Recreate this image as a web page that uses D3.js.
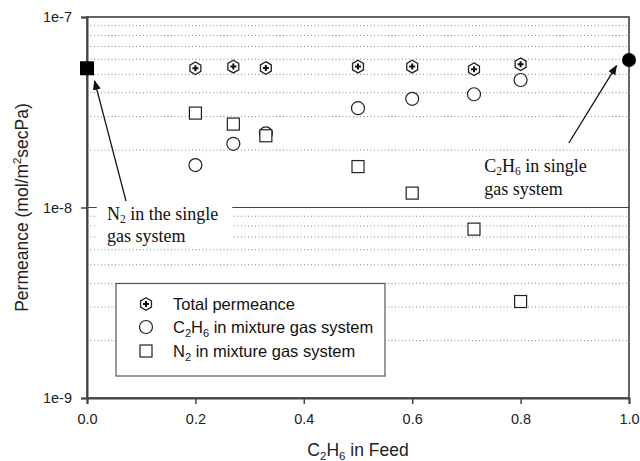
<!DOCTYPE html>
<html><head><meta charset="utf-8">
<script src="https://cdn.jsdelivr.net/npm/d3@7"></script>
<style>body{margin:0;background:#fff}svg{display:block}</style>
</head><body>
<svg id="c" width="640" height="461"></svg>
<script>
const feed = [0.2, 0.27, 0.33, 0.5, 0.6, 0.714, 0.8];
const totalPerm = [5.38e-8, 5.49e-8, 5.40e-8, 5.49e-8, 5.49e-8, 5.32e-8, 5.65e-8];
const c2h6Mix = [1.67e-8, 2.16e-8, 2.45e-8, 3.32e-8, 3.72e-8, 3.93e-8, 4.67e-8];
const n2Mix = [3.13e-8, 2.74e-8, 2.38e-8, 1.64e-8, 1.19e-8, 7.7e-9, 3.21e-9];
const n2Single = [{x: 0, y: 5.38e-8}];
const c2h6Single = [{x: 1, y: 5.95e-8}];
const xTicks = [0, 0.2, 0.4, 0.6, 0.8, 1.0];
const yTicks = [1e-9, 1e-8, 1e-7];
const yTickLabels = ["1e-9", "1e-8", "1e-7"];
const legendLabels = ["Total permeance", "C2H6 in mixture gas system", "N2 in mixture gas system"];

const svg = d3.select("#c");
const L = 87, R = 629, T = 17, B = 398;
const x = d3.scaleLinear().domain([0, 1]).range([L, R]);
const y = d3.scaleLog().domain([1e-9, 1e-7]).range([B, T]);
const axisCol = "#444";
const sans = "Liberation Sans, Arial, sans-serif";
const serif = "Liberation Serif, Times New Roman, serif";

// minor gridlines
const minor = [];
[1e-9, 1e-8].forEach(d => { for (let k = 2; k <= 9; k++) minor.push(d * k); });
svg.append("g").selectAll("line").data(minor).join("line")
  .attr("x1", L).attr("x2", R)
  .attr("y1", d => y(d)).attr("y2", d => y(d))
  .attr("stroke", "#888").attr("stroke-width", 1).attr("stroke-dasharray", "1,2.5");
// major line at 1e-8
svg.append("line").attr("x1", L).attr("x2", R).attr("y1", y(1e-8)).attr("y2", y(1e-8))
  .attr("stroke", axisCol).attr("stroke-width", 1.2);

// frame
svg.append("rect").attr("x", L).attr("y", T).attr("width", R - L).attr("height", B - T)
  .attr("fill", "none").attr("stroke", "#333").attr("stroke-width", 1.5);

// axes
const xAxis = d3.axisBottom(x).tickValues(xTicks).tickFormat(d3.format(".1f")).tickSizeOuter(0).tickSize(6).tickPadding(10);
const gx = svg.append("g").attr("transform", `translate(0,${B})`).call(xAxis);
const yAxis = d3.axisLeft(y).tickValues(yTicks).tickFormat((d, i) => yTickLabels[i]).tickSizeOuter(0).tickSize(6).tickPadding(9);
const gy = svg.append("g").attr("transform", `translate(${L},0)`).call(yAxis);
[gx, gy].forEach(g => {
  g.select(".domain").attr("stroke", axisCol).attr("stroke-width", 2);
  g.selectAll(".tick line").attr("stroke", axisCol).attr("stroke-width", 1.5);
  g.selectAll(".tick text").attr("font-family", sans)
    .attr("font-size", 14.5).attr("fill", "#222");
});

// axis titles
const xt = svg.append("text").attr("x", x(0.5)).attr("y", 456).attr("text-anchor", "middle")
  .attr("font-family", sans).attr("font-size", 17.5).attr("fill", "#222");
xt.append("tspan").text("C");
xt.append("tspan").text("2").attr("font-size", 11.5).attr("dy", 4);
xt.append("tspan").text("H").attr("dy", -4);
xt.append("tspan").text("6").attr("font-size", 11.5).attr("dy", 4);
xt.append("tspan").text(" in Feed").attr("dy", -4);

const yt = svg.append("text").attr("transform", `translate(28,${(T + B) / 2}) rotate(-90)`).attr("text-anchor", "middle")
  .attr("font-family", sans).attr("font-size", 17.5).attr("fill", "#222");
yt.append("tspan").text("Permeance (mol/m");
yt.append("tspan").text("2").attr("font-size", 11.5).attr("dy", -7);
yt.append("tspan").text("secPa)").attr("dy", 7);

// marker drawers
const hexPath = (r) => {
  const pts = d3.range(6).map(i => { const a = Math.PI / 3 * i - Math.PI / 2; return [r * Math.cos(a), r * Math.sin(a)]; });
  return "M" + pts.map(p => p.join(",")).join("L") + "Z";
};
function drawHex(g, cx, cy) {
  g.append("path").attr("d", hexPath(6.3)).attr("transform", `translate(${cx},${cy})`)
    .attr("fill", "#fff").attr("stroke", "#222").attr("stroke-width", 1.3);
  g.append("path").attr("transform", `translate(${cx},${cy})`)
    .attr("d", "M-1,-3H1V-1H3V1H1V3H-1V1H-3V-1H-1Z").attr("fill", "#111");
}
function drawCircle(g, cx, cy) {
  g.append("circle").attr("cx", cx).attr("cy", cy).attr("r", 6.5)
    .attr("fill", "#fff").attr("stroke", "#222").attr("stroke-width", 1.2);
}
function drawSquare(g, cx, cy) {
  g.append("rect").attr("x", cx - 6).attr("y", cy - 6).attr("width", 12).attr("height", 12)
    .attr("fill", "#fff").attr("stroke", "#222").attr("stroke-width", 1.2);
}

const marks = svg.append("g");
feed.forEach((f, i) => drawCircle(marks, x(f), y(c2h6Mix[i])));
feed.forEach((f, i) => drawSquare(marks, x(f), y(n2Mix[i])));
feed.forEach((f, i) => drawHex(marks, x(f), y(totalPerm[i])));

// single gas points
svg.selectAll(".n2s").data(n2Single).join("rect")
  .attr("x", d => x(d.x) - 7).attr("y", d => y(d.y) - 7).attr("width", 14).attr("height", 14).attr("fill", "#000");
svg.selectAll(".c2s").data(c2h6Single).join("circle")
  .attr("cx", d => x(d.x)).attr("cy", d => y(d.y)).attr("r", 7).attr("fill", "#000");

// annotations
svg.append("rect").attr("x", x(0.018)).attr("y", y(1.06e-8)).attr("width", x(0.268) - x(0.018))
  .attr("height", y(6.3e-9) - y(1.06e-8)).attr("fill", "#fff");
function chemLabel(lx, ly, parts) {
  const t = svg.append("text").attr("x", lx).attr("y", ly).attr("font-family", serif).attr("font-size", 18).attr("fill", "#111");
  parts.forEach(p => {
    if (p.sub) t.append("tspan").text(p.t).attr("font-size", 11.5).attr("dy", 3);
    else t.append("tspan").text(p.t).attr("dy", p.after ? -3 : 0);
  });
}
chemLabel(x(0.037), y(8.6e-9), [{t: "N"}, {t: "2", sub: 1}, {t: " in the single", after: 1}]);
svg.append("text").attr("x", x(0.037)).attr("y", y(6.6e-9)).attr("font-family", serif).attr("font-size", 18).attr("fill", "#111").text("gas system");
chemLabel(x(0.733), y(1.53e-8), [{t: "C"}, {t: "2", sub: 1}, {t: "H", after: 1}, {t: "6", sub: 1}, {t: " in single", after: 1}]);
svg.append("text").attr("x", x(0.733)).attr("y", y(1.17e-8)).attr("font-family", serif).attr("font-size", 18).attr("fill", "#111").text("gas system");

// arrows
svg.append("defs").append("marker").attr("id", "ah").attr("viewBox", "0 0 10 10").attr("refX", 9).attr("refY", 5)
  .attr("markerWidth", 10).attr("markerHeight", 10).attr("markerUnits", "userSpaceOnUse").attr("orient", "auto")
  .append("path").attr("d", "M0,1L10,5L0,9Z").attr("fill", "#111");
const arrows = [
  {x1: 0.072, y1: 1.08e-8, x2: 0.014, y2: 4.62e-8},
  {x1: 0.889, y1: 2.18e-8, x2: 0.977, y2: 5.55e-8}
];
svg.selectAll(".arr").data(arrows).join("line")
  .attr("x1", d => x(d.x1)).attr("y1", d => y(d.y1)).attr("x2", d => x(d.x2)).attr("y2", d => y(d.y2))
  .attr("stroke", "#111").attr("stroke-width", 1.3).attr("marker-end", "url(#ah)");

// legend
const lg = svg.append("g");
lg.append("rect").attr("x", 116).attr("y", 283.5).attr("width", 269).attr("height", 92.5)
  .attr("fill", "#fff").attr("stroke", "#555").attr("stroke-width", 1.2);
const ly = [304, 327, 351];
drawHex(lg, 146, ly[0]);
drawCircle(lg, 146, ly[1]);
drawSquare(lg, 146, ly[2]);
const fs = 16.5;
lg.append("text").attr("x", 173).attr("y", ly[0] + 6).attr("font-family", sans).attr("font-size", fs).attr("fill", "#111").text(legendLabels[0]);
const l2 = lg.append("text").attr("x", 173).attr("y", ly[1] + 6).attr("font-family", sans).attr("font-size", fs).attr("fill", "#111");
l2.append("tspan").text("C"); l2.append("tspan").text("2").attr("font-size", 11).attr("dy", 4);
l2.append("tspan").text("H").attr("dy", -4); l2.append("tspan").text("6").attr("font-size", 11).attr("dy", 4);
l2.append("tspan").text(" in mixture gas system").attr("dy", -4);
const l3 = lg.append("text").attr("x", 173).attr("y", ly[2] + 6).attr("font-family", sans).attr("font-size", fs).attr("fill", "#111");
l3.append("tspan").text("N"); l3.append("tspan").text("2").attr("font-size", 11).attr("dy", 4);
l3.append("tspan").text(" in mixture gas system").attr("dy", -4);
</script>
</body></html>
